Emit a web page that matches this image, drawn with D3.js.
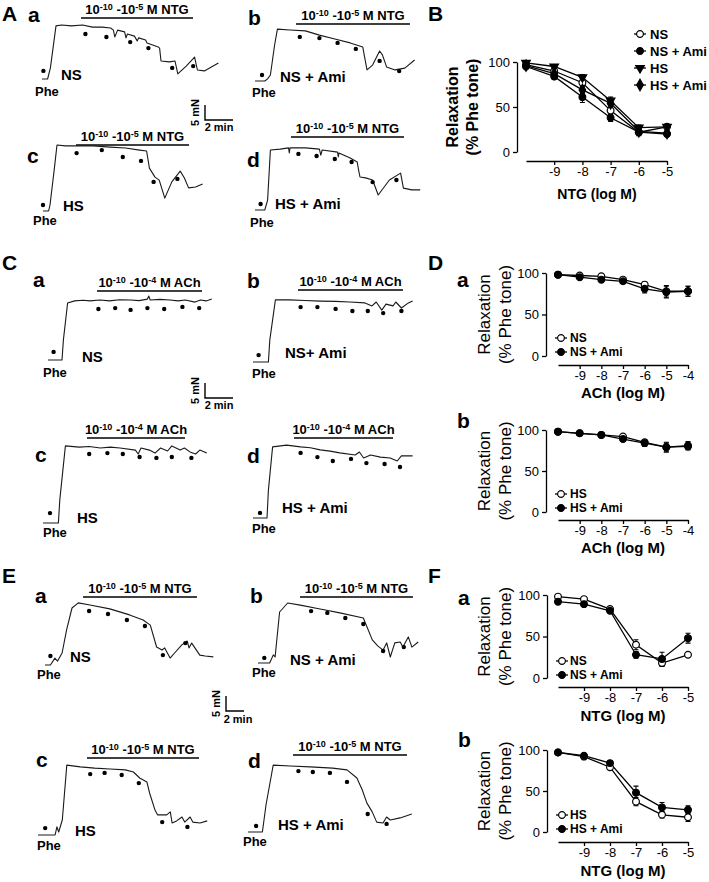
<!DOCTYPE html>
<html><head><meta charset="utf-8">
<script src="https://cdn.jsdelivr.net/npm/d3@7"></script>
<style>body{margin:0;background:#fff}svg{display:block}</style>
</head><body>
<svg id="chart" width="709" height="882"></svg>
<script>
// ================= DATA =================
// concentration-response curves (x = log M, y = % relaxation of Phe tone)
const ntgLog = [-10, -9, -8, -7, -6, -5];
const achLog = [-10, -9, -8, -7, -6, -5, -4];
const ntgTicks = [-9, -8, -7, -6, -5];
const achTicks = [-9, -8, -7, -6, -5, -4];
const yTicks = [0, 50, 100];

const B_NS = [97, 90, 77, 46, 22, 28];
const B_NS_err = [2, 3, 4, 4, 3, 2];
const B_NSAmi = [95, 84, 61, 38, 22, 20];
const B_NSAmi_err = [2, 3, 6, 4, 4, 2];
const B_HS = [99, 95, 83, 57, 27, 28];
const B_HS_err = [2, 2, 3, 4, 3, 3];
const B_HSAmi = [96, 87, 69, 54, 23, 21];
const B_HSAmi_err = [2, 3, 4, 4, 3, 3];

const Da_NS = [98, 97, 96, 92, 86, 78, 78];
const Da_NS_err = [1, 1, 1, 2, 3, 7, 6];
const Da_NSAmi = [98, 95, 92, 90, 81, 77, 78];
const Da_NSAmi_err = [1, 2, 2, 2, 5, 7, 6];
const Db_HS = [98, 96, 94, 92, 85, 79, 80];
const Db_HS_err = [1, 1, 1, 2, 3, 5, 4];
const Db_HSAmi = [98, 96, 94, 89, 84, 79, 81];
const Db_HSAmi_err = [1, 1, 1, 2, 4, 6, 5];

const Fa_NS = [98, 95, 83, 40, 18, 28];
const Fa_NS_err = [1, 1, 2, 6, 4, 2];
const Fa_NSAmi = [92, 89, 81, 28, 23, 48];
const Fa_NSAmi_err = [1, 2, 2, 4, 8, 6];
const Fb_HS = [97, 92, 79, 37, 21, 18];
const Fb_HS_err = [1, 2, 3, 5, 4, 5];
const Fb_HSAmi = [97, 93, 84, 48, 30, 27];
const Fb_HSAmi_err = [1, 2, 2, 8, 6, 5];

// isometric tension traces: [time (min) after start, tension (mN) above baseline]
const trAa = [[0,0],[0.4,0],[0.6,3.7],[1.0,17.7],[1.4,18],[2.1,17.7],[2.9,18],[3.6,17.3],[4.3,17.3],[4.9,17],[5.1,16.3],[5.2,14],[5.4,16.3],[5.9,15.7],[6.0,13.7],[6.1,15],[6.6,14.3],[6.8,12.7],[6.9,13.7],[7.4,13],[7.5,12],[7.7,11.7],[8.3,10.7],[8.4,10.3],[8.5,6],[9.1,5.7],[9.5,6],[9.7,1.7],[10.3,4.3],[10.9,7.3],[11.1,3],[11.6,2.7],[12.6,5.3]];
const dotAa = [[0.1,2.7],[3.1,15],[4.6,14],[6.3,12.3],[7.6,10.3],[9.3,3.7],[10.8,4.3]];
const trAb = [[0,0],[0.7,0],[0.9,0.7],[1.1,2],[1.4,12],[1.6,17.3],[2.5,17],[3.6,16.7],[4.6,15.3],[5.7,14],[6.8,12.7],[7.7,11.3],[7.8,8.7],[8.0,3.7],[8.4,5.3],[8.9,10],[9.1,8.7],[9.4,4.7],[10.0,3.7],[10.7,4.3],[11.4,7]];
const dotAb = [[0.5,2],[3.2,14.7],[4.6,14.3],[5.9,12.7],[7.2,10.7],[8.9,6.7],[10.3,3.3]];
const trAc = [[0,0],[0.4,0],[0.5,2],[0.8,13.7],[1.0,22],[1.6,21.7],[2.6,21.7],[3.6,21.7],[4.8,21.3],[5.9,21],[6.9,20.3],[7.4,20],[7.6,14.3],[8.0,11.3],[8.3,10.3],[8.7,4.3],[9.2,9.7],[9.8,13.3],[10.1,11],[10.4,7.7],[10.9,8],[11.4,9]];
const dotAc = [[0,2],[2.4,19.3],[4.2,20.3],[5.7,18],[7.0,16.7],[7.9,9.7],[9.6,10.7]];
const trAd = [[0,0],[0.7,0],[0.9,3.3],[1.1,20],[1.8,20.3],[2.4,20.7],[2.45,19],[2.5,20.7],[3.6,20.7],[4.6,20.3],[4.7,18.3],[4.8,20],[5.9,19.3],[5.95,17.7],[6.0,19],[6.8,17.3],[7.3,16],[7.4,13.3],[7.5,11],[7.9,10.7],[8.4,10],[8.8,5],[9.6,10],[10.4,12.3],[10.6,7.3],[11.2,6.7],[11.8,6.7]];
const dotAd = [[0.4,2],[3.1,18.7],[4.4,18],[5.7,17],[6.9,16],[8.4,9.3],[10.1,10]];

const trCa = [[0,0],[1.0,0],[1.1,6.7],[1.4,19],[1.9,19.7],[2.5,19.9],[3.0,19.7],[3.7,20],[4.4,19.7],[5.1,20.1],[5.9,20],[6.5,19.8],[7.1,20.3],[7.2,21.3],[7.3,20],[8.0,20.2],[8.7,20],[9.3,19.7],[9.8,20],[10.5,19.3],[10.9,20],[11.3,19.7],[11.7,20.3]];
const dotCa = [[0.4,2.7],[3.6,17],[4.8,17.3],[5.9,16.7],[7.1,17.3],[8.3,17],[9.6,17.7],[10.8,17.3]];
const trCb = [[0,0],[1.1,0],[1.2,7.3],[1.6,20.7],[2.6,20.7],[3.7,20.5],[4.8,20.3],[5.9,20.2],[6.9,20],[8.0,19.7],[8.5,18.7],[8.8,20],[9.2,17.3],[9.5,19.3],[10.0,18.7],[10.2,20],[10.6,18],[11.1,19.7],[11.4,20.3]];
const dotCb = [[0.4,2.3],[3.4,18.3],[4.6,18.3],[5.9,17.7],[7.1,17],[8.2,17],[9.3,16.3],[10.6,17]];
const trCc = [[0,0],[1.1,0],[1.2,7.7],[1.6,25.7],[2.6,25.3],[3.3,25.5],[4.1,25],[4.8,25.3],[5.5,25],[6.6,24.3],[6.8,23],[7.0,25],[7.6,24.3],[8.0,23.3],[8.4,25],[8.9,24],[9.2,25.7],[9.8,24.3],[10.1,25],[10.5,23.7],[10.9,23],[11.2,24.3],[11.7,23.3]];
const dotCc = [[0.5,3.3],[3.3,23],[4.6,23.3],[5.7,23],[6.9,22],[8.1,21.7],[9.2,22],[10.6,21.7]];
const trCd = [[0,0],[1.0,0],[1.1,9.3],[1.4,23.7],[2.4,24.3],[3.4,23.7],[4.1,23.4],[4.8,22.7],[5.5,22.3],[6.2,21.7],[7.3,21],[7.6,22],[7.9,20],[8.4,21],[9.1,20.3],[9.8,20],[10.3,19],[10.6,20.7],[11.4,20.7]];
const dotCd = [[0.5,1.7],[3.4,21.7],[4.6,20.3],[5.7,19],[7.0,19.7],[8.1,18.3],[9.4,18],[10.5,17]];

const trEa = [[0,0],[0.6,0],[1.1,2.3],[1.4,1.3],[1.9,4],[2.4,11.7],[3.0,19],[3.7,20.7],[5.0,20],[7.2,18.7],[9.4,16.7],[10.9,15],[11.7,13.3],[12.4,6],[13.0,5],[13.3,5.7],[13.9,2.3],[14.4,4],[15.2,6.7],[15.8,8],[16.0,5.7],[16.3,7.3],[17.2,3.3],[17.8,3],[18.7,2.7]];
const dotEa = [[0.6,3],[4.9,18],[7.0,17],[9.1,15],[11.1,13],[13.1,3.3],[15.6,7.3]];
const trEb = [[0,0],[1.3,0],[1.7,2.7],[1.9,2],[2.4,17],[3.3,20],[4.7,19.3],[6.9,18],[9.1,16.7],[11.7,15],[12.7,7.7],[13.3,5.7],[13.9,4.3],[14.3,6.7],[14.7,2],[15.2,6.7],[15.8,7],[16.1,5.3],[16.7,8.7],[17.1,5.3],[17.8,7]];
const dotEb = [[0.7,1.7],[5.9,17.3],[7.7,16.7],[9.7,15],[11.7,13],[13.9,4],[16.2,5.3]];
const trEc = [[0,0],[1.9,0],[2.1,2.7],[2.3,1],[2.7,5],[3.2,23.3],[4.7,22.7],[6.3,22.3],[8.0,22],[9.7,21.7],[10.6,21],[11.3,19],[12.1,17.7],[12.4,14],[13.0,8.3],[13.3,6.7],[14.3,6.7],[14.7,7.7],[14.9,4],[15.4,4.7],[16.0,6],[16.3,4.3],[16.9,6],[17.2,4.3],[18.0,4],[18.8,4.7]];
const dotEc = [[0.8,2.3],[5.8,20.3],[7.4,20.7],[9.3,20],[11.2,17.3],[13.8,4.3],[16.6,2.7]];
const trEd = [[0,0],[1.6,0],[2.0,9],[2.8,22.3],[4.7,22],[6.9,21.7],[9.4,21.3],[11.0,20.7],[12.1,18],[12.7,14],[13.2,9.7],[13.8,6.7],[14.3,3.3],[15.0,3],[15.4,5],[15.8,4],[16.9,4.7],[18.2,6]];
const dotEd = [[0.9,2],[5.6,20.3],[7.2,20],[9.1,19.7],[11.0,16.7],[13.3,6],[15.4,2.7]];

const ntgRange = [-10, -5];
const achRange = [-10, -4];
const scaleBarMin = 2;   // min
const scaleBarMN = 5;    // mN

// ================= LAYOUT / STYLE =================
const FONT = 'Arial, "Liberation Sans", Helvetica, sans-serif';
const svg = d3.select('#chart');
svg.append('rect').attr('width', 709).attr('height', 882).attr('fill', '#fff');

function text(x, y, s, size, weight, anchor) {
  return svg.append('text').attr('x', x).attr('y', y).text(s)
    .attr('font-family', FONT).attr('font-size', size)
    .attr('font-weight', weight || 'bold').attr('text-anchor', anchor || 'start').attr('fill', '#000');
}

function drugLabel(cx, y, range, drug) {
  const t = svg.append('text').attr('x', cx).attr('y', y).attr('text-anchor', 'middle')
    .attr('font-family', FONT).attr('font-weight', 'bold').attr('font-size', 13).attr('fill', '#000');
  t.append('tspan').text('10');
  t.append('tspan').attr('dy', -4.5).attr('font-size', 9).text(String(range[0]));
  t.append('tspan').attr('dy', 4.5).text(' -10');
  t.append('tspan').attr('dy', -4.5).attr('font-size', 9).text(String(range[1]));
  t.append('tspan').attr('dy', 4.5).text(' M ' + drug);
}

const rowScale = {
  A: { pxMin: 14, pxMN: 3, bar: [205, 120], mnX: 199, minX: 219, minY: 131 },
  C: { pxMin: 14, pxMN: 3, bar: [205, 398], mnX: 199, minX: 219, minY: 409 },
  E: { pxMin: 9,  pxMN: 3, bar: [226, 711], mnX: 220, minX: 238, minY: 723 }
};

const tracePanels = [
  { row:'A', sub:'a', lx:28,  ly:22,  bar:[81,193,18],   range:ntgRange, drug:'NTG', ox:42,  oy:79,  grp:'NS',       gx:61,  gy:80,  phe:[35,96],  tr:trAa, dots:dotAa },
  { row:'A', sub:'b', lx:248, ly:25,  bar:[296,410,24],  range:ntgRange, drug:'NTG', ox:255, oy:81,  grp:'NS + Ami', gx:280, gy:82,  phe:[252,97], tr:trAb, dots:dotAb },
  { row:'A', sub:'c', lx:27,  ly:163, bar:[76,189,145],  range:ntgRange, drug:'NTG', ox:43,  oy:211, grp:'HS',       gx:63,  gy:211, phe:[33,225], tr:trAc, dots:dotAc },
  { row:'A', sub:'d', lx:247, ly:167, bar:[291,404,137], range:ntgRange, drug:'NTG', ox:255, oy:210, grp:'HS + Ami', gx:275, gy:209, phe:[250,227],tr:trAd, dots:dotAd },
  { row:'C', sub:'a', lx:33,  ly:287, bar:[97,202,291],  range:achRange, drug:'ACh', ox:48,  oy:360, grp:'NS',       gx:82,  gy:362, phe:[43,377], tr:trCa, dots:dotCa },
  { row:'C', sub:'b', lx:247, ly:288, bar:[298,403,290], range:achRange, drug:'ACh', ox:253, oy:362, grp:'NS+ Ami',  gx:285, gy:358, phe:[252,378],tr:trCb, dots:dotCb },
  { row:'C', sub:'c', lx:35,  ly:462, bar:[87,185,438],  range:achRange, drug:'ACh', ox:43,  oy:523, grp:'HS',       gx:77,  gy:523, phe:[43,537], tr:trCc, dots:dotCc },
  { row:'C', sub:'d', lx:247, ly:463, bar:[294,393,438], range:achRange, drug:'ACh', ox:253, oy:518, grp:'HS + Ami', gx:282, gy:513, phe:[252,533],tr:trCd, dots:dotCd },
  { row:'E', sub:'a', lx:35,  ly:603, bar:[83,197,597],  range:ntgRange, drug:'NTG', ox:45,  oy:665, grp:'NS',       gx:70,  gy:662, phe:[37,679], tr:trEa, dots:dotEa },
  { row:'E', sub:'b', lx:250, ly:603, bar:[300,413,597], range:ntgRange, drug:'NTG', ox:258, oy:663, grp:'NS + Ami', gx:290, gy:665, phe:[252,677],tr:trEb, dots:dotEb },
  { row:'E', sub:'c', lx:36,  ly:767, bar:[87,199,758],  range:ntgRange, drug:'NTG', ox:38,  oy:835, grp:'HS',       gx:75,  gy:836, phe:[37,850], tr:trEc, dots:dotEc },
  { row:'E', sub:'d', lx:248, ly:768, bar:[293,407,755], range:ntgRange, drug:'NTG', ox:248, oy:832, grp:'HS + Ami', gx:278, gy:830, phe:[243,846],tr:trEd, dots:dotEd }
];

// panel letters
[['A',2,21],['B',428,21],['C',2,270],['D',428,270],['E',2,583],['F',428,583]]
  .forEach(d => text(d[1], d[2], d[0], 21, 'bold'));

// ---- traces ----
tracePanels.forEach(p => {
  const rs = rowScale[p.row];
  const xs = d3.scaleLinear().domain([0, 10]).range([p.ox, p.ox + 10 * rs.pxMin]);
  const ys = d3.scaleLinear().domain([0, 10]).range([p.oy, p.oy - 10 * rs.pxMN]);
  text(p.lx, p.ly, p.sub, 21, 'bold');
  svg.append('line').attr('x1', p.bar[0]).attr('x2', p.bar[1]).attr('y1', p.bar[2]).attr('y2', p.bar[2])
    .attr('stroke', '#000').attr('stroke-width', 1.6);
  drugLabel((p.bar[0] + p.bar[1]) / 2, p.bar[2] - 4, p.range, p.drug);
  svg.append('path').datum(p.tr)
    .attr('d', d3.line().x(d => xs(d[0])).y(d => ys(d[1])))
    .attr('fill', 'none').attr('stroke', '#1a1a1a').attr('stroke-width', 1.1).attr('stroke-linejoin', 'round');
  svg.append('g').selectAll('circle').data(p.dots).join('circle')
    .attr('cx', d => xs(d[0])).attr('cy', d => ys(d[1])).attr('r', 2.2).attr('fill', '#000');
  text(p.gx, p.gy, p.grp, 15, 'bold');
  text(p.phe[0], p.phe[1], 'Phe', 13, 'bold');
});

// ---- scale bars ----
Object.values(rowScale).forEach(rs => {
  const xs = d3.scaleLinear().domain([0, scaleBarMin]).range([rs.bar[0], rs.bar[0] + scaleBarMin * rs.pxMin]);
  const ys = d3.scaleLinear().domain([0, scaleBarMN]).range([rs.bar[1], rs.bar[1] - scaleBarMN * rs.pxMN]);
  svg.append('path')
    .attr('d', `M${xs(0)},${ys(scaleBarMN)}L${xs(0)},${ys(0)}L${xs(scaleBarMin)},${ys(0)}`)
    .attr('fill', 'none').attr('stroke', '#000').attr('stroke-width', 1.4);
  svg.append('text').attr('transform', `translate(${rs.mnX},${(ys(0) + ys(scaleBarMN)) / 2}) rotate(-90)`)
    .attr('text-anchor', 'middle').attr('font-family', FONT).attr('font-weight', 'bold').attr('font-size', 11)
    .text(scaleBarMN + ' mN');
  text(rs.minX, rs.minY, scaleBarMin + ' min', 11, 'bold', 'middle');
});

// ---- concentration-response panels ----
function marker(g, type, x, y) {
  let path;
  if (type === 'oc' || type === 'fc') path = d3.symbol(d3.symbolCircle, 36)();
  else if (type === 'tri') path = d3.symbol(d3.symbolTriangle, 32)();
  else path = d3.symbol(d3.symbolDiamond, 38)();
  g.append('path').attr('d', path)
    .attr('transform', `translate(${x},${y})` + (type === 'tri' ? ' rotate(180)' : ''))
    .attr('fill', type === 'oc' ? '#fff' : '#000').attr('stroke', '#000').attr('stroke-width', 1.2);
}

const curvePanels = [
  { sub:null, axX:517, y0:152, y100:62,  axY:161, x0:526, x1:667, dom:[-10,-5], ticks:ntgTicks, xv:ntgLog, title:'NTG (log M)', tX:597, tY:199, tS:14,
    yl:{ bold:true, size:16, x1:452, x2:472 },
    series:[ {v:B_NS, e:B_NS_err, s:'oc', n:'NS'}, {v:B_NSAmi, e:B_NSAmi_err, s:'fc', n:'NS + Ami'}, {v:B_HS, e:B_HS_err, s:'tri', n:'HS'}, {v:B_HSAmi, e:B_HSAmi_err, s:'dia', n:'HS + Ami'} ],
    legend:{ x:640, tx:650, ys:[34, 51, 68, 85], fs:13 } },
  { sub:['a',457,287], axX:546, y0:356, y100:273, axY:365, x0:558, x1:688, dom:[-10,-4], ticks:achTicks, xv:achLog, title:'ACh (log M)', tX:623, tY:398, tS:15,
    yl:{ bold:false, size:17, x1:484, x2:505 },
    series:[ {v:Da_NS, e:Da_NS_err, s:'oc', n:'NS'}, {v:Da_NSAmi, e:Da_NSAmi_err, s:'fc', n:'NS + Ami'} ],
    legend:{ x:561, tx:570, ys:[338, 352], fs:12 } },
  { sub:['b',457,428], axX:546, y0:512, y100:430, axY:520, x0:558, x1:688, dom:[-10,-4], ticks:achTicks, xv:achLog, title:'ACh (log M)', tX:623, tY:553, tS:15,
    yl:{ bold:false, size:17, x1:484, x2:505 },
    series:[ {v:Db_HS, e:Db_HS_err, s:'oc', n:'HS'}, {v:Db_HSAmi, e:Db_HSAmi_err, s:'fc', n:'HS + Ami'} ],
    legend:{ x:561, tx:570, ys:[494, 508], fs:12 } },
  { sub:['a',458,605], axX:547, y0:678, y100:595, axY:687, x0:558, x1:688, dom:[-10,-5], ticks:ntgTicks, xv:ntgLog, title:'NTG (log M)', tX:623, tY:721, tS:15,
    yl:{ bold:false, size:17, x1:484, x2:505 },
    series:[ {v:Fa_NS, e:Fa_NS_err, s:'oc', n:'NS'}, {v:Fa_NSAmi, e:Fa_NSAmi_err, s:'fc', n:'NS + Ami'} ],
    legend:{ x:562, tx:570, ys:[661, 675], fs:12 } },
  { sub:['b',458,747], axX:547, y0:832, y100:750, axY:842, x0:558, x1:688, dom:[-10,-5], ticks:ntgTicks, xv:ntgLog, title:'NTG (log M)', tX:623, tY:876, tS:15,
    yl:{ bold:false, size:17, x1:484, x2:505 },
    series:[ {v:Fb_HS, e:Fb_HS_err, s:'oc', n:'HS'}, {v:Fb_HSAmi, e:Fb_HSAmi_err, s:'fc', n:'HS + Ami'} ],
    legend:{ x:562, tx:570, ys:[815, 829], fs:12 } }
];

curvePanels.forEach(c => {
  const x = d3.scaleLinear().domain(c.dom).range([c.x0, c.x1]);
  const y = d3.scaleLinear().domain([0, 100]).range([c.y0, c.y100]);
  const g = svg.append('g');

  if (c.sub) text(c.sub[1], c.sub[2], c.sub[0], 21, 'bold');

  const ya = g.append('g').attr('transform', `translate(${c.axX},0)`)
    .call(d3.axisLeft(y).tickValues(yTicks).tickSize(4).tickSizeOuter(0).tickPadding(3).tickFormat(d => String(d)));
  const xa = g.append('g').attr('transform', `translate(0,${c.axY})`)
    .call(d3.axisBottom(x).tickValues(c.ticks).tickSize(4).tickSizeOuter(0).tickPadding(2).tickFormat(d => String(d)));
  [ya, xa].forEach(a => {
    a.attr('font-family', FONT).attr('font-size', 13);
    a.selectAll('path,line').attr('stroke', '#000').attr('stroke-width', 1.3);
    a.selectAll('text').attr('fill', '#000');
  });

  text(c.tX, c.tY, c.title, c.tS, 'bold', 'middle');
  const ymid = (c.y0 + c.y100) / 2;
  const bw = c.yl.bold ? 'bold' : 'normal';
  [['Relaxation', c.yl.x1], ['(% Phe tone)', c.yl.x2]].forEach(l => {
    svg.append('text').attr('transform', `translate(${l[1] + 0.36 * c.yl.size},${ymid}) rotate(-90)`)
      .attr('text-anchor', 'middle').attr('font-family', FONT).attr('font-size', c.yl.size)
      .attr('font-weight', bw).attr('fill', '#000').text(l[0]);
  });

  const line = d3.line().x((d, i) => x(c.xv[i])).y(d => y(d));
  c.series.forEach(s => {
    g.append('path').datum(s.v).attr('d', line).attr('fill', 'none').attr('stroke', '#000').attr('stroke-width', 1.3);
  });
  c.series.forEach(s => {
    s.v.forEach((v, i) => {
      const xx = x(c.xv[i]);
      const y1 = y(v - s.e[i]), y2 = y(v + s.e[i]);
      g.append('path').attr('d', `M${xx},${y1}V${y2}M${xx - 2.5},${y1}H${xx + 2.5}M${xx - 2.5},${y2}H${xx + 2.5}`)
        .attr('stroke', '#000').attr('stroke-width', 1.1).attr('fill', 'none');
    });
  });
  c.series.forEach(s => {
    s.v.forEach((v, i) => marker(g, s.s, x(c.xv[i]), y(v)));
  });

  // legend
  c.series.forEach((s, i) => {
    const ly = c.legend.ys[i];
    g.append('line').attr('x1', c.legend.x - 6).attr('x2', c.legend.x + 6).attr('y1', ly).attr('y2', ly)
      .attr('stroke', '#000').attr('stroke-width', 1.3);
    marker(g, s.s, c.legend.x, ly);
    text(c.legend.tx, ly + 0.35 * c.legend.fs, s.n, c.legend.fs, 'bold');
  });
});
</script>
</body></html>
